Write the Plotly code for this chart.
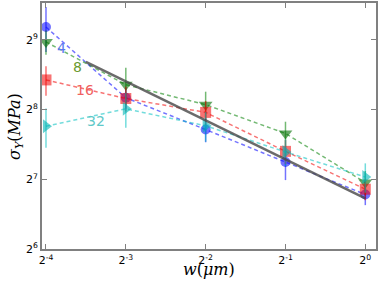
import plotly.graph_objects as go
import math

widths = [2**-4, 2**-3, 2**-2, 2**-1, 2**0]

s4 = [582, 288, 210, 152, 110]
s4_err = [128, 30, 25, 25, 11]
s8 = [502, 328, 269, 202, 124]
s8_err = [60, 60, 37, 25, 15]
s16 = [344, 286, 249, 169, 116]
s16_err = [50, 35, 30, 20, 12]
s32 = [217, 258, 218, 168, 131]
s32_err = [42, 44, 32, 22, 19]

fit_x = [2**-3.5, 2**0]
fit_y = [412, 106]

series_names = ["4", "8", "16", "32"]
label_x = [2**-3.8, 2**-3.6, 2**-3.51, 2**-3.375]
label_y = [2**8.886, 2**8.614, 2**8.286, 2**7.843]

xtick_vals = widths
xtick_text = ["2<sup>-4</sup>", "2<sup>-3</sup>", "2<sup>-2</sup>", "2<sup>-1</sup>", "2<sup>0</sup>"]
ytick_vals = [64, 128, 256, 512]
ytick_text = ["2<sup>6</sup>", "2<sup>7</sup>", "2<sup>8</sup>", "2<sup>9</sup>"]

styles = [
    dict(vals=s4, err=s4_err, color="rgba(0,0,255,0.55)", line="rgba(0,0,255,0.55)", sym="circle", size=10, txt="#5a78f0"),
    dict(vals=s8, err=s8_err, color="rgba(0,110,0,0.6)", line="rgba(0,128,0,0.55)", sym="triangle-down", size=12, txt="#6a9a30"),
    dict(vals=s16, err=s16_err, color="rgba(240,0,0,0.55)", line="rgba(240,0,0,0.55)", sym="square", size=11, txt="#f06060"),
    dict(vals=s32, err=s32_err, color="rgba(0,180,180,0.6)", line="rgba(0,191,191,0.55)", sym="triangle-right", size=12, txt="#60c8c8"),
]

fig = go.Figure()
for name, st in zip(series_names, styles):
    fig.add_trace(go.Scatter(
        x=widths, y=st["vals"], mode="lines+markers", name=name,
        line=dict(color=st["line"], width=1.5, dash="4px,3px"),
        marker=dict(symbol=st["sym"], size=st["size"], color=st["color"], line=dict(width=0)),
        error_y=dict(type="data", array=st["err"], color=st["line"], thickness=1.5, width=0),
        showlegend=False,
    ))

fig.add_trace(go.Scatter(x=fit_x, y=fit_y, mode="lines",
                         line=dict(color="rgba(70,70,70,0.8)", width=2.5), showlegend=False))

for name, st, lx, ly in zip(series_names, styles, label_x, label_y):
    fig.add_annotation(x=math.log10(lx), y=math.log10(ly), text=name, showarrow=False,
                       font=dict(size=14, color=st["txt"], family="DejaVu Sans"))

fig.add_annotation(xref="paper", yref="paper", x=0.5, y=-0.083, yanchor="middle",
                   text="<i>w</i>(<i>μm</i>)", showarrow=False,
                   font=dict(size=16, family="DejaVu Serif", color="black"))
fig.add_annotation(xref="paper", yref="paper", x=-0.081, y=0.5, xanchor="center",
                   text="<i>σ</i><sub><i>Y</i></sub>(<i>MPa</i>)", showarrow=False, textangle=-90,
                   font=dict(size=16, family="DejaVu Serif", color="black"))

axis_common = dict(showline=True, linecolor="#808080", linewidth=2, mirror="ticks",
                   ticks="inside", ticklen=5, tickcolor="#808080", showgrid=False, zeroline=False,
                   automargin=False,
                   tickfont=dict(size=11, color="black", family="DejaVu Sans"))

fig.update_xaxes(type="log", range=[math.log10(2**-4.05), math.log10(2**0.134)],
                 tickvals=xtick_vals, ticktext=xtick_text, **axis_common)
fig.update_yaxes(type="log", range=[math.log10(2**6), math.log10(2**9.53)],
                 tickvals=ytick_vals, ticktext=ytick_text, **axis_common)

fig.update_layout(width=392, height=281, margin=dict(l=42, r=16, t=3, b=32),
                  plot_bgcolor="white", paper_bgcolor="white")
fig.write_html("out.html", config={"displayModeBar": False},
               post_script="document.body.style.margin='0px';document.body.style.overflow='hidden';")
